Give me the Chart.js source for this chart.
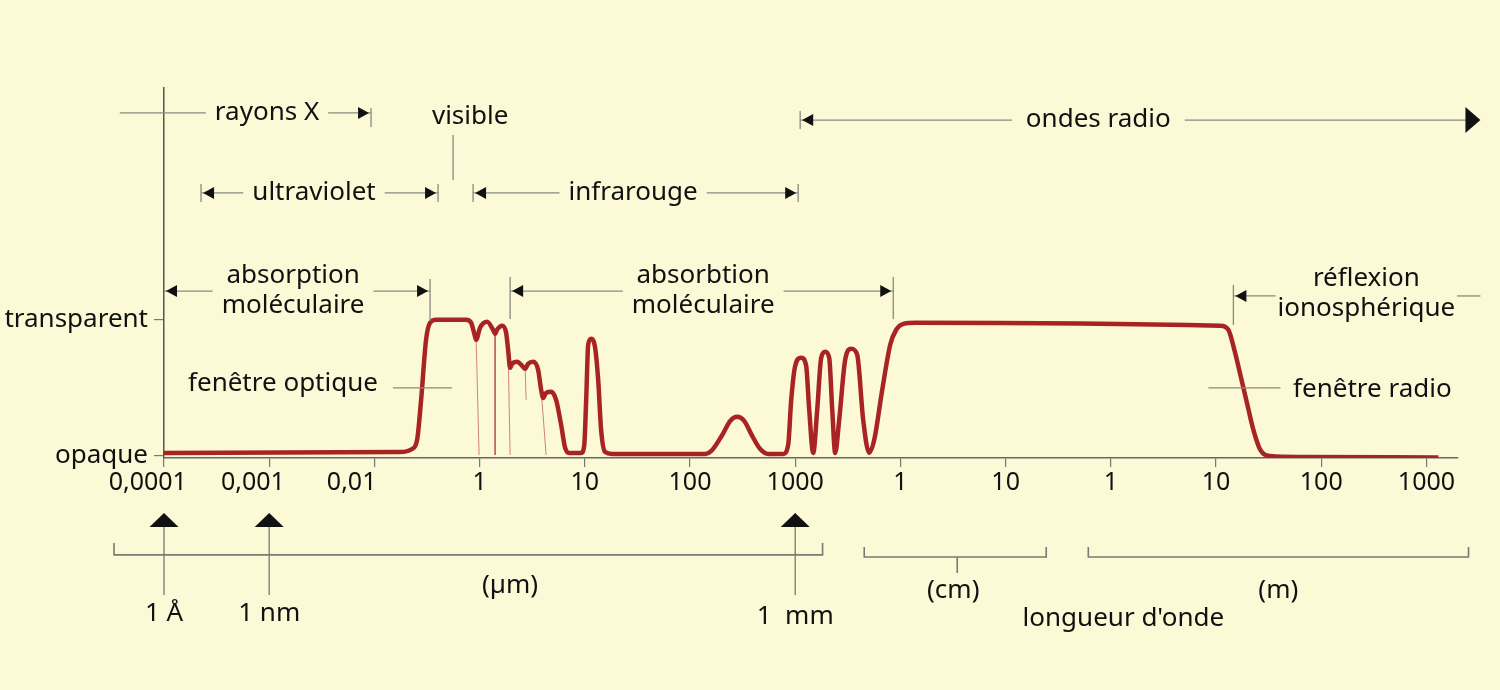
<!DOCTYPE html>
<html lang="fr">
<head>
<meta charset="utf-8">
<title>Fenêtres de transparence de l'atmosphère</title>
<script src="https://cdn.jsdelivr.net/npm/chart.js@4.4.1/dist/chart.umd.min.js"></script>
<style>
  html, body { margin: 0; padding: 0; background: #fcf9d6; }
  #wrap { width: 1500px; height: 690px; position: relative; }
</style>
</head>
<body>
<div id="wrap"><canvas id="spectre"></canvas></div>
<script>
// axe horizontal : une graduation par décade (rang 0 = 0,0001 µm)
const xTickLabels = ['0,0001', '0,001', '0,01', '1', '10', '100', '1000', '1', '10', '1', '10', '100', '1000'];
const yTickLabels = ['opaque', 'transparent'];

// transmission de l'atmosphère (0 = opaque, 1 = transparent)
const curveX = [0, 2.244, 2.358, 2.406, 2.444, 2.491, 2.529, 2.586, 2.872, 2.919, 2.957, 2.967,
  3.004, 3.071, 3.128, 3.147, 3.166, 3.214, 3.252, 3.271, 3.290, 3.309, 3.356, 3.404, 3.433,
  3.461, 3.509, 3.556, 3.585, 3.604, 3.632, 3.680, 3.727, 3.775, 3.813, 3.851, 3.965, 3.994,
  4.013, 4.032, 4.060, 4.098, 4.127, 4.155, 4.193, 4.260, 5.144, 5.211, 5.306, 5.382, 5.448,
  5.515, 5.591, 5.667, 5.743, 5.886, 5.933, 5.962, 6.000, 6.057, 6.104, 6.133, 6.171, 6.209,
  6.247, 6.285, 6.323, 6.352, 6.380, 6.418, 6.475, 6.532, 6.589, 6.646, 6.703, 6.751, 6.827,
  6.903, 6.960, 7.036, 7.141, 10.041, 10.117, 10.174, 10.231, 10.298, 10.355, 10.421, 10.516,
  10.802, 12.114];
const curveY = [0.022, 0.029, 0.051, 0.118, 0.412, 0.853, 0.978, 1.0, 1.0, 0.978, 0.875, 0.853,
  0.941, 0.985, 0.926, 0.897, 0.926, 0.956, 0.904, 0.779, 0.647, 0.676, 0.691, 0.662, 0.640,
  0.676, 0.691, 0.632, 0.485, 0.426, 0.463, 0.471, 0.412, 0.228, 0.059, 0.022, 0.022, 0.074,
  0.412, 0.816, 0.860, 0.794, 0.559, 0.191, 0.029, 0.015, 0.015, 0.044, 0.154, 0.257, 0.287,
  0.257, 0.147, 0.051, 0.015, 0.015, 0.081, 0.412, 0.662, 0.721, 0.662, 0.338, 0.022, 0.338,
  0.721, 0.765, 0.721, 0.338, 0.022, 0.265, 0.706, 0.787, 0.743, 0.265, 0.022, 0.118, 0.485,
  0.816, 0.926, 0.971, 0.978, 0.956, 0.926, 0.779, 0.596, 0.375, 0.191, 0.044, 0.0,
  -0.007, -0.012];

// raies d'absorption fines (null = coupure)
const linesX = [2.967, 2.995, null, 3.147, 3.147, null, 3.271, 3.290, null, 3.433, 3.442, null, 3.585, 3.632];
const linesY = [0.853, 0.007, null, 0.897, 0.007, null, 0.779, 0.007, null, 0.640, 0.412, null, 0.485, 0.007];

const FONT = '26px "Noto Sans", sans-serif';
const RED = '#a82424';
const INK = '#111111';
const GREY = '#8a8a80';

function pts(xs, ys) {
  return xs.map((x, k) => x === null ? { x: NaN, y: null } : { x: x, y: ys[k] });
}

// flèches, accolades et textes autour du graphique
const annotations = {
  id: 'annotations',
  afterDraw(chart) {
    const ctx = chart.ctx, sx = chart.scales.x, sy = chart.scales.y;
    const X = v => sx.getPixelForValue(v), Y = v => sy.getPixelForValue(v);
    ctx.save();
    ctx.font = FONT;
    ctx.textAlign = 'center';
    ctx.textBaseline = 'middle';

    function seg(x1, y1, x2, y2, color, w) {
      ctx.strokeStyle = color || GREY;
      ctx.lineWidth = w || 1.3;
      ctx.beginPath(); ctx.moveTo(x1, y1); ctx.lineTo(x2, y2); ctx.stroke();
    }
    function head(x, y, dir, len, half) {
      ctx.fillStyle = INK;
      ctx.beginPath();
      ctx.moveTo(x, y);
      ctx.lineTo(x - dir * len, y - half);
      ctx.lineTo(x - dir * len, y + half);
      ctx.closePath(); ctx.fill();
    }
    function end(x, y, dir, kind, up, down) {
      if (kind.indexOf('bar') >= 0) seg(x, y - up, x, y + down, GREY, 1.3);
      if (kind.indexOf('arrow') >= 0) head(x - dir * 2, y, dir, 11, 6);
      if (kind === 'big') head(x, y, dir, 15, 13);
    }
    function range(a) {
      const x1 = X(a.from), x2 = X(a.to), y = Y(a.y), xc = X(a.at);
      const lines = a.text.split('\n');
      const w = Math.max.apply(null, lines.map(t => ctx.measureText(t).width));
      const gap = a.gap === undefined ? 9 : a.gap;
      seg(x1, y, xc - w / 2 - gap, y);
      seg(xc + w / 2 + gap, y, x2 - (a.right === 'big' ? 14 : 0), y);
      end(x1, y, -1, a.left, a.up || 9, a.down || 9);
      end(x2, y, 1, a.right, a.up || 9, a.down || 9);
      ctx.fillStyle = INK;
      lines.forEach((t, k) => ctx.fillText(t, xc, y + (k - (lines.length - 1) / 2) * 30 + (a.dy || 0)));
    }

    [
      { text: 'rayons X', from: -0.42, to: 1.968, at: 0.979, y: 2.517, left: 'none', right: 'bar arrow', up: 5, down: 14 },
      { text: 'ultraviolet', from: 0.352, to: 2.605, at: 1.426, y: 1.93, left: 'bar arrow', right: 'bar arrow' },
      { text: 'infrarouge', from: 2.938, to: 6.028, at: 4.459, y: 1.93, left: 'bar arrow', right: 'bar arrow' },
      { text: 'ondes radio', from: 6.047, to: 12.513, at: 8.881, y: 2.465, left: 'bar arrow', right: 'big', gap: 14 },
      { text: 'absorption\nmoléculaire', from: 0.0, to: 2.529, at: 1.227, y: 1.21, left: 'arrow', right: 'bar arrow', up: 12, down: 30 },
      { text: 'absorbtion\nmoléculaire', from: 3.29, to: 6.932, at: 5.125, y: 1.21, left: 'bar arrow', right: 'bar arrow', up: 14, down: 28 },
      { text: 'réflexion\nionosphérique', from: 10.165, to: 12.513, at: 11.429, y: 1.174, left: 'bar arrow', right: 'none', up: 11, down: 29, gap: 2, dy: -2 }
    ].forEach(range);

    // visible
    ctx.fillStyle = INK;
    ctx.fillText('visible', X(2.91), Y(2.487));
    seg(X(2.748), Y(2.355), X(2.748), Y(2.025));

    // fenêtres
    ctx.fillText('fenêtre optique', X(1.131), Y(0.53));
    seg(X(2.177), Y(0.499), X(2.738), Y(0.499));
    ctx.fillStyle = INK;
    ctx.fillText('fenêtre radio', X(11.486), Y(0.49));
    seg(X(9.927), Y(0.499), X(10.612), Y(0.499));

    // repères 1 Å, 1 nm, 1 mm
    [[0, '1 Å'], [1, '1 nm'], [6, '1  mm']].forEach(m => {
      const x = X(m[0]);
      seg(x, Y(-0.52), x, Y(-1.02), GREY, 1.5);
      ctx.fillStyle = INK;
      ctx.beginPath();
      ctx.moveTo(x, Y(-0.418));
      ctx.lineTo(x - 14.5, Y(-0.521));
      ctx.lineTo(x + 14.5, Y(-0.521));
      ctx.closePath(); ctx.fill();
      ctx.fillText(m[1], x, Y(m[0] === 6 ? -1.18 : -1.155));
    });

    // accolades d'unités
    function bracket(a, b, y, yEnd, mid, midEnd) {
      ctx.strokeStyle = '#7a7a72';
      ctx.lineWidth = 1.6;
      ctx.beginPath();
      ctx.moveTo(X(a), Y(yEnd)); ctx.lineTo(X(a), Y(y));
      ctx.lineTo(X(b), Y(y)); ctx.lineTo(X(b), Y(yEnd));
      if (mid !== undefined) { ctx.moveTo(X(mid), Y(y)); ctx.lineTo(X(mid), Y(midEnd)); }
      ctx.stroke();
    }
    bracket(-0.475, 6.26, -0.726, -0.638);
    bracket(6.656, 8.386, -0.741, -0.668, 7.54, -0.858);
    bracket(8.786, 12.40, -0.741, -0.668);
    ctx.fillStyle = INK;
    ctx.fillText('(µm)', X(3.29), Y(-0.954));
    ctx.fillText('(cm)', X(7.502), Y(-0.99));
    ctx.fillText('(m)', X(10.592), Y(-0.99));
    ctx.fillText("longueur d'onde", X(9.119), Y(-1.196));
    ctx.restore();
  }
};

new Chart(document.getElementById('spectre'), {
  type: 'line',
  data: {
    datasets: [
      {
        data: pts(curveX, curveY),
        borderColor: RED,
        borderWidth: 4.5,
        pointRadius: 0,
        cubicInterpolationMode: 'monotone',
        fill: false
      },
      {
        data: pts(linesX, linesY),
        borderColor: 'rgba(168, 36, 36, 0.55)',
        borderWidth: 1,
        pointRadius: 0,
        tension: 0,
        spanGaps: false,
        fill: false
      }
    ]
  },
  options: {
    responsive: true,
    maintainAspectRatio: false,
    animation: false,
    layout: { padding: { top: 88, right: 42, left: 0, bottom: 0 } },
    plugins: { legend: { display: false }, tooltip: { enabled: false } },
    scales: {
      x: {
        type: 'linear',
        min: 0,
        max: 12.3,
        afterBuildTicks: s => { s.ticks = xTickLabels.map((_, k) => ({ value: k })); },
        afterFit: s => { s.height = 232; },
        ticks: {
          autoSkip: false,
          maxRotation: 0,
          padding: 1,
          color: INK,
          font: { family: 'Noto Sans', size: 25 },
          // les trois premiers libellés sont décalés vers la gauche dans l'original
          callback: v => {
            const t = xTickLabels[Math.round(v)];
            return t.indexOf(',') >= 0 ? t + ' '.repeat(t.length === 4 ? 7 : 5) : t;
          }
        },
        grid: { drawOnChartArea: false, drawTicks: true, tickLength: 9, color: '#777', lineWidth: 1.2 },
        border: { color: '#666', width: 1.5 }
      },
      y: {
        type: 'linear',
        min: -0.015,
        max: 2.7,
        afterBuildTicks: s => { s.ticks = yTickLabels.map((_, k) => ({ value: k })); },
        afterFit: s => { s.width = 164; },
        ticks: {
          padding: 6,
          color: INK,
          font: { family: 'Noto Sans', size: 26 },
          callback: v => yTickLabels[Math.round(v)]
        },
        grid: { drawOnChartArea: false, drawTicks: true, tickLength: 10, color: '#777', lineWidth: 1.2 },
        border: { color: '#555', width: 1.5 }
      }
    }
  },
  plugins: [annotations]
});
</script>
</body>
</html>
